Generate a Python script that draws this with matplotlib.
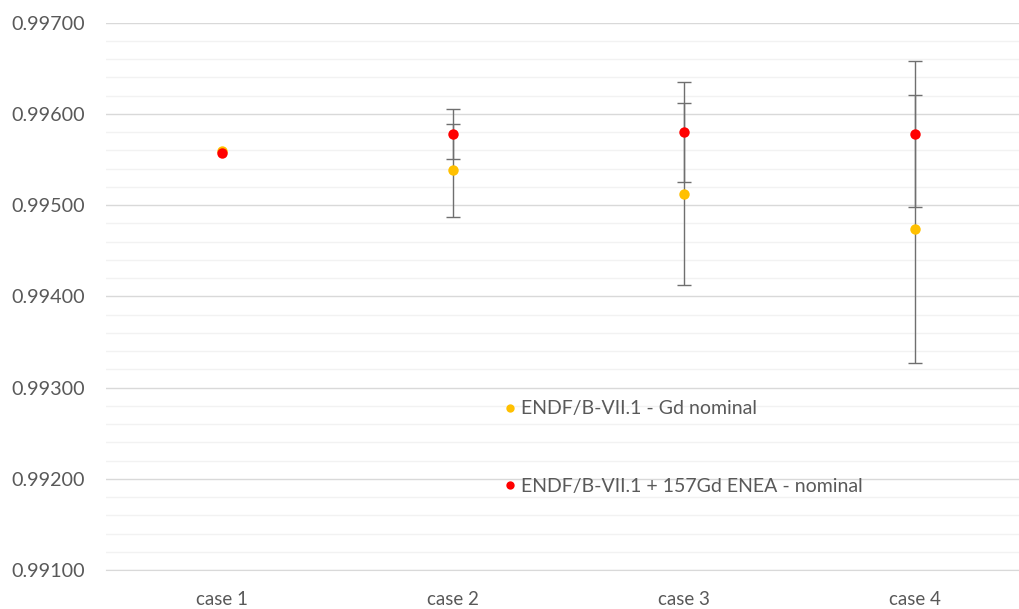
import matplotlib.pyplot as plt
from matplotlib.ticker import MultipleLocator, FormatStrFormatter

cases = ["case 1", "case 2", "case 3", "case 4"]

# ENDF/B-VII.1 - Gd nominal
gd_nominal = [0.99559, 0.99538, 0.99512, 0.99474]
gd_nominal_err = [0.0, 0.00051, 0.00100, 0.00147]

# ENDF/B-VII.1 + 157Gd ENEA - nominal
gd_enea = [0.99557, 0.99578, 0.99580, 0.99578]
gd_enea_err = [0.0, 0.00027, 0.00055, 0.00080]

label_nominal = "ENDF/B-VII.1 - Gd nominal"
label_enea = "ENDF/B-VII.1 + 157Gd ENEA - nominal"

plt.rcParams["font.family"] = ["Lato", "DejaVu Sans"]
text_gray = "#595959"

fig = plt.figure(figsize=(10.19, 6.09), dpi=100)
ax = fig.add_axes([0.104, 0.064, 0.896, 0.8987])

x = list(range(len(cases)))

# case 1 has no uncertainty bar, so only draw the non-zero ones
for vals, errs in [(gd_nominal, gd_nominal_err), (gd_enea, gd_enea_err)]:
    idx = [i for i in x if errs[i] > 0]
    ax.errorbar(idx, [vals[i] for i in idx], yerr=[errs[i] for i in idx],
                fmt="none", ecolor="#6f6f6f", elinewidth=1.0, capsize=5,
                capthick=1.0, zorder=3)

ax.plot(x, gd_nominal, "o", color="#FFC000", markersize=7.5, markeredgewidth=0,
        label=label_nominal, zorder=4)
ax.plot(x, gd_enea, "o", color="#FF0000", markersize=7.5, markeredgewidth=0,
        label=label_enea, zorder=5)

ax.set_xlim(-0.502, 3.45)
ax.set_ylim(0.991, 0.997)
ax.set_xticks(x)
ax.set_xticklabels(cases)
ax.yaxis.set_major_locator(MultipleLocator(0.001))
ax.yaxis.set_minor_locator(MultipleLocator(0.0002))
ax.yaxis.set_major_formatter(FormatStrFormatter("%.5f"))

ax.grid(axis="y", which="major", color="#d9d9d9", linewidth=1.0, zorder=0)
ax.grid(axis="y", which="minor", color="#f2f2f2", linewidth=1.0, zorder=0)
ax.set_axisbelow(True)
for side in ["top", "right", "left"]:
    ax.spines[side].set_visible(False)
ax.spines["bottom"].set_color("#d9d9d9")

ax.tick_params(axis="y", which="both", length=0, pad=15, labelsize=14.2,
               labelcolor=text_gray)
ax.tick_params(axis="x", length=0, pad=15, labelsize=13.5, labelcolor=text_gray)

leg = ax.legend(loc="upper left", bbox_to_anchor=(0.413, 0.342), frameon=False,
                fontsize=14.0, labelspacing=3.1, handletextpad=0.05,
                handlelength=1.0, markerscale=0.8, labelcolor=text_gray)

fig.savefig("out.png", dpi=100)
